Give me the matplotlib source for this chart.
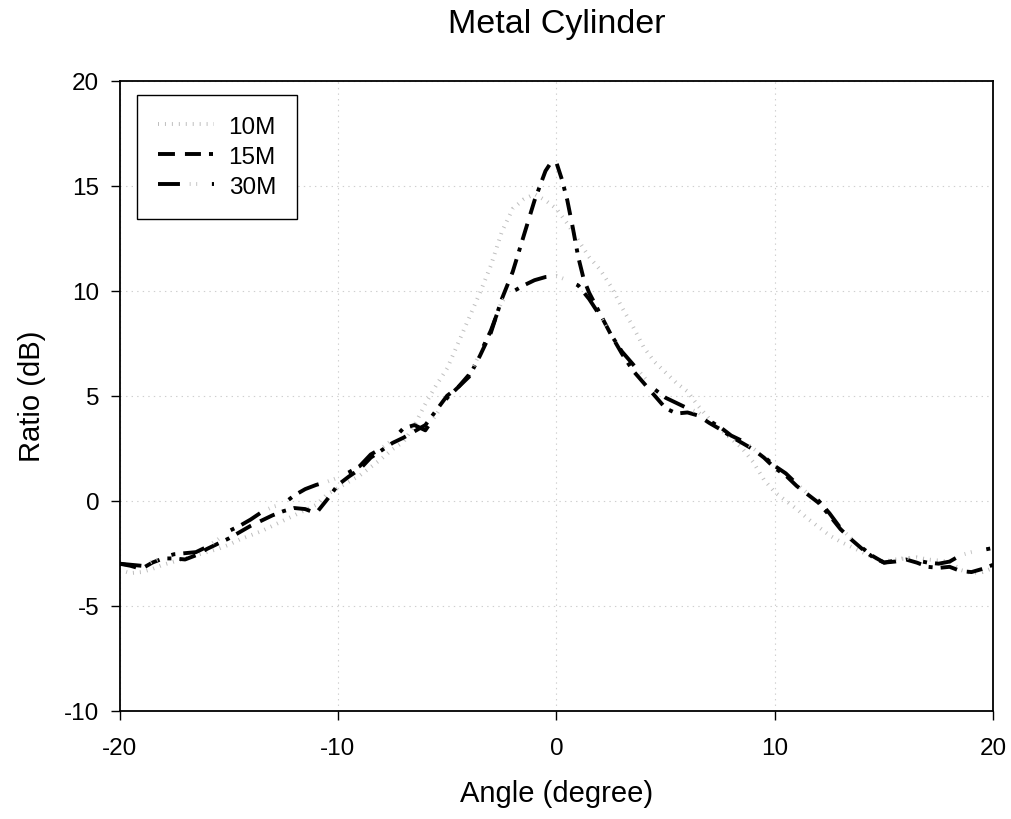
import matplotlib
matplotlib.use("Agg")
import matplotlib.pyplot as plt
from matplotlib.legend_handler import HandlerTuple

plt.rcParams['font.family'] = ['Liberation Sans', 'DejaVu Sans']
plt.rcParams['lines.scale_dashes'] = False
plt.rcParams['axes.unicode_minus'] = False

title = "Metal Cylinder"
x_label = "Angle (degree)"
y_label = "Ratio (dB)"
series_names = ["10M", "15M", "30M"]
x_ticks = [-20, -10, 0, 10, 20]
y_ticks = [-10, -5, 0, 5, 10, 15, 20]

angle_10m = [-20, -19.5, -19, -18.5, -18, -17.5, -17, -16.5, -16, -15.5, -15, -14.5,
             -14, -13.5, -13, -12.5, -12, -11.5, -11, -10.5, -10, -9.5, -9, -8.5,
             -8, -7.5, -7, -6.5, -6, -5.5, -5, -4.5, -4, -3.5, -3, -2.5, -2, -1.5,
             -1, -0.5, 0, 0.5, 1, 1.5, 2, 2.5, 3, 3.5, 4, 4.5, 5, 5.5, 6, 6.5, 7,
             7.5, 8, 8.5, 9, 9.5, 10, 10.5, 11, 11.5, 12, 12.5, 13, 13.5, 14, 14.5,
             15, 15.5, 16, 16.5, 17, 17.5, 18, 18.5, 19, 19.5, 20]
ratio_10m = [-3.3, -3.45, -3.4, -3.25, -3.05, -2.9, -2.75, -2.6, -2.45, -2.3, -2.1, -1.85,
             -1.65, -1.45, -1.2, -0.95, -0.7, -0.45, -0.2, 0.3, 0.6, 0.9, 1.2, 1.6,
             2.0, 2.45, 2.8, 3.6, 4.6, 5.5, 6.3, 7.5, 8.7, 9.9, 11.2, 12.8, 13.9, 14.35,
             14.6, 14.3, 13.9, 13.2, 12.4, 11.6, 11.0, 10.2, 9.2, 8.3, 7.3, 6.6, 6.1, 5.6,
             5.2, 4.5, 3.9, 3.4, 2.95, 2.5, 1.85, 1.0, 0.4, 0.0, -0.4, -0.85, -1.25, -1.65,
             -1.95, -2.2, -2.45, -2.7, -2.9, -2.8, -2.75, -2.7, -2.8, -2.85, -2.9, -3.3,
             -3.45, -3.4, -3.2]

angle_15m = [-20, -19.5, -19, -18.5, -18, -17.5, -17, -16.5, -16, -15.5, -15, -14.5,
             -14, -13.5, -13, -12.5, -12, -11.5, -11, -10.5, -10, -9.5, -9, -8.5,
             -8, -7.5, -7, -6.5, -6, -5.5, -5, -4.5, -4, -3.5, -3, -2.5, -2, -1.5,
             -1, -0.5, -0.25, -0.1, 0, 0.25, 0.5, 0.75, 1, 1.25, 1.5, 2, 2.5, 3, 3.5,
             4, 4.5, 5, 5.5, 6, 6.5, 7, 7.5, 8, 8.5, 9, 9.5, 10, 10.5, 11, 11.5, 12,
             12.5, 13, 13.5, 14, 14.5, 15, 15.5, 16, 16.5, 17, 17.5, 18, 18.5, 19,
             19.5, 20]
ratio_15m = [-3.0, -3.1, -3.25, -2.95, -2.75, -2.75, -2.8, -2.6, -2.3, -2.05, -1.8, -1.5,
             -1.2, -0.95, -0.7, -0.5, -0.35, -0.4, -0.6, 0.05, 0.75, 1.15, 1.5, 2.05,
             2.4, 2.75, 3.0, 3.3, 3.6, 4.3, 5.0, 5.4, 5.9, 6.9, 8.0, 9.6, 10.9, 12.6,
             14.3, 15.7, 16.1, 16.15, 16.1, 15.3, 14.3, 13.0, 11.6, 10.55, 9.9, 8.9, 7.9,
             7.0, 6.2, 5.6, 5.0, 4.4, 4.15, 4.2, 4.05, 3.7, 3.4, 3.05, 2.75, 2.45, 2.05,
             1.55, 1.2, 0.7, 0.3, -0.1, -0.7, -1.35, -1.85, -2.3, -2.7, -2.95, -2.9, -2.8,
             -2.95, -3.15, -3.2, -3.15, -3.35, -3.4, -3.25, -3.05]

angle_30m = angle_10m
ratio_30m = [-3.0, -3.05, -3.1, -2.9, -2.7, -2.55, -2.5, -2.45, -2.2, -1.85, -1.45, -1.2,
             -0.9, -0.55, -0.3, -0.15, 0.25, 0.55, 0.75, 0.9, 1.1, 1.35, 1.65, 2.2,
             2.5, 2.9, 3.45, 3.6, 3.35, 4.1, 4.9, 5.4, 6.0, 7.0, 8.1, 9.5, 9.95, 10.25,
             10.5, 10.65, 10.7, 10.5, 10.25, 9.6, 8.8, 7.9, 7.1, 6.5, 5.9, 5.3, 4.9, 4.65,
             4.4, 4.2, 3.8, 3.5, 3.1, 2.85, 2.5, 2.1, 1.65, 1.3, 0.8, 0.35, 0.0, -0.6,
             -1.3, -1.8, -2.25, -2.65, -2.95, -2.85, -2.7, -2.85, -2.95, -3.0, -2.9, -2.6,
             -2.45, -2.35, -2.25]

fig = plt.figure(figsize=(10.11, 8.2), dpi=100)
ax = fig.add_axes([0.1182, 0.1321, 0.8643, 0.7683])

# light dotted grid at the major ticks
ax.grid(True, color='#cfcfcf', linestyle=(0, (1, 3)), linewidth=0.8)
ax.set_axisbelow(True)

# 10M: fine gray dotted trace
h10, = ax.plot(angle_10m, ratio_10m, color='#bdbdbd', linewidth=2.8,
               linestyle=(0, (0.7, 4.3)), dash_capstyle='butt')

# 15M: dash-dash-dot
h15, = ax.plot(angle_15m, ratio_15m, color='black', linewidth=2.8,
               linestyle=(0, (12.2, 7.2, 11.5, 5.8, 2.9, 5.8)), dash_capstyle='butt')

# 30M: long dash, faint gray dots, black dot
period = 15.8 + 23.0 + 2.9 + 5.8
h30b, = ax.plot(angle_30m, ratio_30m, color='black', linewidth=2.8,
                linestyle=(0, (15.8, 23.0, 2.9, 5.8)), dash_capstyle='butt')
h30g, = ax.plot(angle_30m, ratio_30m, color='#c4c4c4', linewidth=2.8,
                linestyle=(period - 22.8, (0.7, 4.0, 0.7, period - 5.4)),
                dash_capstyle='butt')

ax.set_xlim(-20, 20)
ax.set_ylim(-10, 20)
ax.set_xticks(x_ticks)
ax.set_yticks(y_ticks)
ax.tick_params(direction='out', length=6.5, width=1, labelsize=17.5, colors='black')
ax.tick_params(axis='y', pad=8)
ax.tick_params(axis='x', pad=12.5)
for s in ax.spines.values():
    s.set_linewidth(1.3)
    s.set_color('black')

ax.set_title(title, fontsize=24.5, pad=35)
ax.set_xlabel(x_label, fontsize=21, labelpad=14)
ax.set_ylabel(y_label, fontsize=21, labelpad=13)

leg = ax.legend([h10, h15, (h30b, h30g)], series_names,
                handler_map={tuple: HandlerTuple(ndivide=1)},
                loc='upper left', bbox_to_anchor=(0.02, 0.977), borderaxespad=0,
                fontsize=17.5, handlelength=2.3, handletextpad=0.62,
                borderpad=0.85, labelspacing=0.33, fancybox=False, framealpha=1)
leg.get_frame().set_edgecolor('black')
leg.get_frame().set_linewidth(1.0)

fig.savefig("out.png", dpi=100)
